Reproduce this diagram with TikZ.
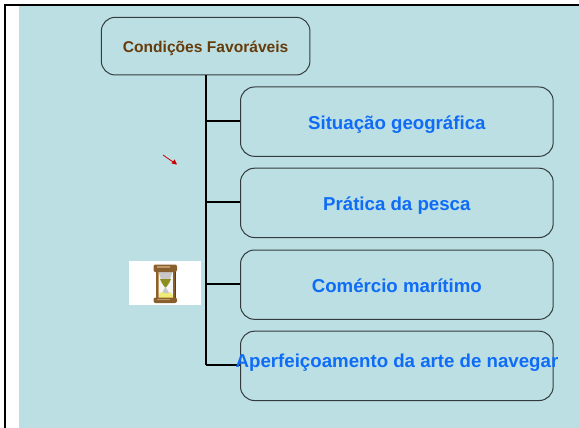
\documentclass[tikz,border=0pt]{standalone}
\usepackage{fontspec}
\setmainfont{Liberation Sans}
\definecolor{bgteal}{HTML}{BBDFE3}
\definecolor{brownt}{HTML}{663C0C}
\definecolor{bluet}{HTML}{0F6CF7}
\definecolor{edgec}{HTML}{333B3D}
\definecolor{wood}{HTML}{8A5F2E}
\definecolor{woodd}{HTML}{5E3E1A}
\definecolor{woodl}{HTML}{C09A66}
\definecolor{sandl}{HTML}{F0EC78}
\definecolor{sandd}{HTML}{8E8E1E}
\definecolor{glassg}{HTML}{C8C8C8}
\tikzset{
  box/.style={draw=edgec,line width=0.75pt,rounded corners=10.5pt,fill=bgteal,anchor=north west,inner sep=0pt},
  topbox/.style={box,minimum width=156.5pt,minimum height=43.25pt,text=brownt,text height=12.5pt,text depth=2.5pt,font=\bfseries\fontsize{11.7pt}{13pt}\selectfont},
  subbox/.style={box,minimum width=234.5pt,minimum height=52pt,text=bluet,text height=14pt,text depth=2.8pt,font=\bfseries\fontsize{14pt}{16pt}\selectfont},
  overtext/.style={text=bluet,inner sep=0pt,text height=12pt,text depth=2.8pt,font=\bfseries\fontsize{14pt}{16pt}\selectfont},
  conn/.style={draw=black,line width=1.5pt},
  trunk/.style={draw=black,line width=1.8pt}
}
\begin{document}
\begin{tikzpicture}[x=0.75pt,y=-0.75pt]
\useasboundingbox (0,0) rectangle (579,428);
\fill[white] (0,0) rectangle (579,428);
\fill[bgteal] (19,6) rectangle (579,428);
\draw[black,line width=1.5pt] (5,428) -- (5,5) -- (579,5);
\node[topbox] (top) at (100.8,16.8) {Condições Favoráveis};
\node[subbox] (s1) at (240,86.5) {Situação geográfica};
\node[subbox] (s2) at (240,167.7) {Prática da pesca};
\node[subbox] (s3) at (240,249.5) {Comércio marítimo};
\node[subbox] (s4) at (240,330.7) {};
\coordinate (tb) at (205.7,75);
\coordinate (t1) at (205.7,121);
\coordinate (t2) at (205.7,202);
\coordinate (t3) at (205.7,284);
\coordinate (t4) at (205.7,365);
\draw[trunk] (tb) -- (t4);
\draw[conn] (t1) -- (s1.west |- t1);
\draw[conn] (t2) -- (s2.west |- t2);
\draw[conn] (t3) -- (s3.west |- t3);
\draw[conn] (t4) -- (s4.west |- t4);
\node[overtext] (s4t) at (397,361.5) {Aperfeiçoamento da arte de navegar};
% red arrow
\coordinate (ra) at (163,155);
\coordinate (rb) at (176,164);
\draw[red!80!black,line width=0.6pt] (ra) -- (rb);
\fill[red!80!black] (177,164.5) -- (171.5,163.5) -- (174.5,159.5) -- cycle;
% hourglass
\fill[white] (129,261) rectangle (201,305);
\fill[white!92!gray] (158,271) rectangle (173,298);
\fill[glassg] (158.5,272) -- (172.5,272) -- (170,279) -- (161,279) -- cycle;
\fill[sandd] (160,279) -- (171,279) .. controls (169,284) and (167,286) .. (165.5,288) .. controls (164,286) and (162,284) .. (160,279) -- cycle;
\fill[glassg] (165.5,287) -- (171,296) -- (160,296) -- cycle;
\fill[sandl] (157.5,301) .. controls (157,296) and (159,293) .. (162,292) .. controls (165,294) and (169,294) .. (170,292) .. controls (173,294) and (174,297) .. (173.5,301) -- cycle;
\fill[wood] (155.5,271) rectangle (157.5,298);
\fill[woodl] (157.5,271) rectangle (158.2,298);
\fill[wood] (173,271) rectangle (175,298);
\fill[woodd] (175,271) rectangle (175.6,298);
\fill[wood,rounded corners=1.5pt] (153.5,264.5) rectangle (177,272);
\fill[woodl] (157,265.5) rectangle (170,267.5);
\fill[wood,rounded corners=1.5pt] (153.5,297.5) rectangle (177,303);
\fill[woodl] (157,298.5) rectangle (170,300);
\end{tikzpicture}
\end{document}
